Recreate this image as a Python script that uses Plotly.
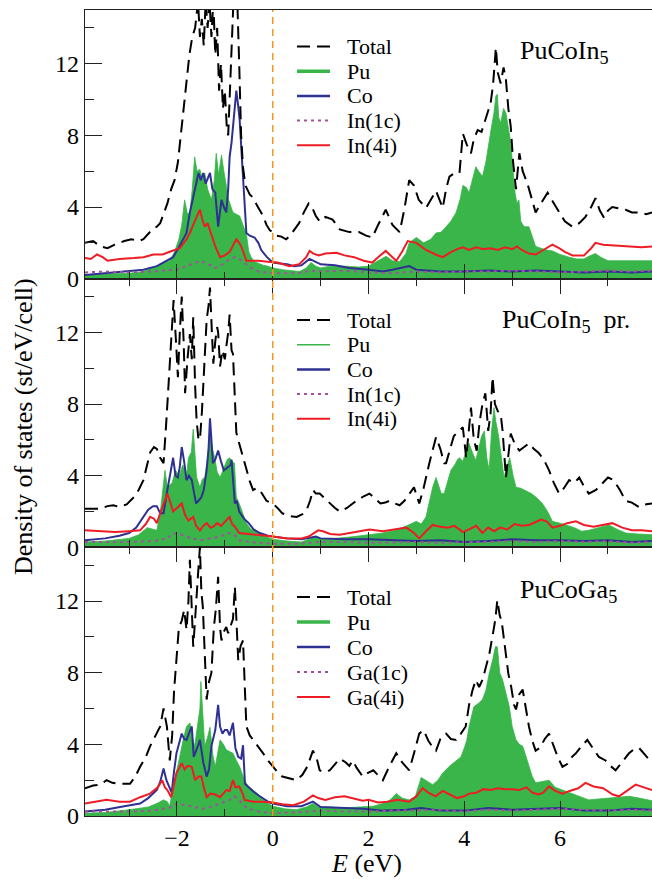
import plotly.graph_objects as go
from plotly.subplots import make_subplots

FONT = "Liberation Serif, Times New Roman, DejaVu Serif, serif"

# ---------------- Panel 1: PuCoIn5 ----------------
p1_total_E = [-3.92,-3.75,-3.6,-3.45,-3.3,-3.1,-2.95,-2.8,-2.7,-2.6,-2.5,-2.42,-2.35,-2.28,-2.2,-2.12,-2.05,-1.98,
              -1.92,-1.86,-1.8,-1.74,-1.68,-1.62,-1.56,-1.52,-1.48,-1.44,-1.4,-1.36,-1.32,-1.28,-1.24,-1.2,-1.16,-1.12,
              -1.08,-1.04,-1.0,-0.96,-0.93,-0.9,-0.86,-0.82,-0.78,-0.74,-0.7,-0.66,-0.62,-0.57,-0.48,-0.4,-0.33,-0.27,
              -0.2,-0.13,-0.06,0.0,0.08,0.18,0.28,0.36,0.44,0.55,0.65,0.75,0.82,0.9,0.98,1.1,1.25,1.4,1.6,1.8,1.95,2.08,
              2.2,2.36,2.5,2.65,2.75,2.85,2.95,3.05,3.2,3.3,3.41,3.55,3.62,3.69,3.8,3.9,3.97,4.05,4.14,4.2,4.28,4.36,
              4.45,4.55,4.6,4.66,4.7,4.76,4.82,4.87,4.92,4.97,5.02,5.08,5.15,5.22,5.32,5.4,5.49,5.6,5.74,5.85,5.98,6.1,
              6.26,6.4,6.53,6.65,6.74,6.83,6.92,7.0,7.09,7.25,7.37,7.5,7.65,7.8,7.92]
p1_total = [2.0,2.1,1.8,1.7,1.9,2.1,2.2,2.1,2.2,2.5,2.8,2.9,3.1,3.6,4.2,5.0,5.5,6.5,
            8.0,9.5,11.0,12.5,13.5,14.0,15.5,13.5,14.5,13.0,15.5,14.0,15.5,13.5,15.5,12.5,14.0,10.5,
            12.0,9.5,10.5,8.5,8.0,10.5,13.5,15.5,16.0,15.5,12.0,8.0,6.2,5.2,4.7,4.5,4.1,3.8,
            3.5,3.0,2.7,2.6,2.4,2.35,2.2,2.4,2.7,3.1,3.7,4.2,4.0,3.5,3.2,3.45,3.3,2.75,2.6,2.6,2.4,2.3,
            3.0,3.85,3.0,2.6,3.9,5.5,5.2,4.4,3.95,4.4,4.9,3.95,5.0,5.7,5.9,5.9,8.1,7.5,7.0,7.8,8.3,8.2,
            8.9,9.8,10.8,12.9,11.5,10.9,11.8,11.1,9.5,8.5,6.5,5.0,7.0,6.0,5.3,4.6,3.7,4.2,4.8,4.3,3.7,3.2,
            2.9,3.1,3.45,4.0,4.5,3.8,3.4,3.8,4.0,3.9,3.85,3.7,3.7,3.6,3.7]

p1_pu_E = [-3.92,-3.5,-3.0,-2.7,-2.42,-2.25,-2.15,-2.05,-1.96,-1.9,-1.84,-1.78,-1.73,-1.68,-1.63,-1.58,-1.52,-1.47,
           -1.42,-1.36,-1.28,-1.22,-1.18,-1.13,-1.07,-1.02,-0.97,-0.92,-0.87,-0.83,-0.76,-0.69,-0.62,-0.55,-0.5,-0.45,
           -0.38,-0.3,-0.2,-0.1,0.0,0.2,0.4,0.56,0.7,0.8,0.9,1.0,1.2,1.5,1.8,2.0,2.2,2.37,2.5,2.65,2.78,2.85,3.0,3.15,
           3.3,3.41,3.52,3.62,3.72,3.83,3.92,3.97,4.04,4.1,4.17,4.24,4.3,4.38,4.45,4.52,4.57,4.62,4.66,4.69,4.72,4.76,
           4.82,4.87,4.92,4.97,5.02,5.06,5.1,5.14,5.18,5.25,5.35,5.42,5.49,5.6,5.72,5.84,6.0,6.19,6.35,6.5,6.6,6.74,
           6.85,7.0,7.3,7.6,7.92]
p1_pu = [0.22,0.25,0.3,0.4,0.7,0.85,1.0,1.5,2.2,3.0,4.4,3.6,3.7,5.0,6.8,6.0,6.1,5.5,
         5.9,5.0,4.4,5.5,7.0,5.8,6.9,6.0,5.2,4.4,4.0,3.7,3.6,3.5,3.0,2.5,1.5,1.2,
         0.95,0.85,0.75,0.7,0.6,0.5,0.45,0.4,0.6,0.9,0.7,0.6,0.7,0.7,0.65,0.7,1.0,1.25,1.0,0.95,1.4,2.0,2.3,2.0,
         2.2,2.55,2.6,2.9,3.2,3.7,4.5,5.2,5.1,4.8,5.5,6.25,6.0,5.7,6.5,7.75,8.5,9.25,10.2,10.3,9.0,8.7,
         9.5,9.25,8.5,7.6,6.0,4.8,4.2,4.4,3.2,2.9,2.9,2.3,1.8,1.7,1.6,1.55,1.35,1.2,1.1,1.1,1.25,1.4,
         1.2,1.0,1.0,1.0,1.0]

p1_co_E = [-3.92,-3.5,-3.0,-2.7,-2.42,-2.2,-2.08,-1.95,-1.8,-1.73,-1.66,-1.6,-1.55,-1.5,-1.45,-1.4,-1.35,-1.31,-1.26,
           -1.2,-1.14,-1.1,-1.07,-1.02,-0.97,-0.93,-0.9,-0.86,-0.83,-0.79,-0.76,-0.72,-0.69,-0.65,-0.62,-0.58,-0.55,
           -0.48,-0.38,-0.3,-0.24,-0.12,0.0,0.15,0.3,0.45,0.6,0.77,0.85,1.0,1.3,1.6,2.0,2.3,2.5,2.85,3.0,3.5,4.0,4.5,
           5.0,5.5,6.0,6.5,7.0,7.5,7.92]
p1_co = [0.2,0.3,0.4,0.5,0.7,1.0,1.2,1.8,2.55,3.7,4.6,5.2,5.9,5.5,5.9,5.3,5.6,5.9,5.0,
         4.8,2.9,3.9,4.4,4.0,3.7,5.0,6.8,7.6,8.5,9.8,10.5,9.6,8.85,7.0,5.5,3.8,2.55,
         2.4,2.3,2.0,1.6,1.2,0.9,0.85,0.8,0.7,0.75,1.1,1.0,0.8,0.75,0.6,0.5,0.4,0.5,0.7,0.5,0.4,0.4,0.45,
         0.4,0.45,0.4,0.35,0.4,0.35,0.4]

p1_in1c_E = [-3.92,-3.5,-3.0,-2.5,-2.0,-1.8,-1.6,-1.5,-1.4,-1.3,-1.2,-1.1,-1.0,-0.9,-0.8,-0.7,-0.6,-0.45,-0.3,0.0,
             0.5,0.8,1.0,1.5,2.0,2.5,3.0,3.5,4.0,4.5,5.0,5.5,6.0,6.5,7.0,7.5,7.92]
p1_in1c = [0.35,0.4,0.35,0.4,0.5,0.7,0.9,1.0,0.85,0.75,0.6,0.7,0.9,1.1,1.2,1.1,0.9,0.6,0.4,0.3,
           0.3,0.45,0.4,0.45,0.35,0.3,0.4,0.35,0.4,0.4,0.45,0.4,0.35,0.4,0.45,0.4,0.45]

p1_in4i_E = [-3.92,-3.8,-3.67,-3.55,-3.45,-3.2,-2.9,-2.7,-2.49,-2.3,-2.15,-1.94,-1.8,-1.73,-1.63,-1.55,-1.52,-1.47,
             -1.42,-1.36,-1.31,-1.25,-1.2,-1.1,-1.0,-0.9,-0.85,-0.76,-0.7,-0.65,-0.55,-0.3,-0.1,0.1,0.35,0.55,0.7,
             0.77,0.85,0.96,1.1,1.33,1.5,1.7,1.9,2.08,2.2,2.36,2.5,2.58,2.7,2.82,3.0,3.2,3.4,3.55,3.7,3.85,3.97,4.1,
             4.25,4.4,4.55,4.7,4.85,5.0,5.1,5.2,5.35,5.49,5.65,5.84,5.98,6.1,6.26,6.5,6.65,6.74,6.9,7.2,7.5,7.7,7.92]
p1_in4i = [1.15,1.1,1.35,1.2,1.0,1.1,1.15,1.2,1.35,1.35,1.5,1.7,2.2,2.55,3.2,3.7,3.85,3.3,
           2.9,3.1,2.7,2.2,1.8,1.2,1.3,1.5,1.75,2.2,2.0,1.75,1.0,1.0,0.95,0.9,0.7,0.8,1.2,
           1.55,1.4,1.3,1.4,1.45,1.3,1.2,1.0,0.9,1.2,1.55,1.2,1.0,1.5,2.1,2.0,1.6,1.35,1.2,1.45,1.65,1.75,1.6,
           1.75,1.65,1.7,1.6,1.75,1.65,1.8,1.6,1.4,1.35,1.6,1.9,1.7,1.5,1.3,1.3,1.7,2.0,1.9,1.85,1.8,1.75,1.8]

# ---------------- Panel 2: PuCoIn5 pr. ----------------
p2_total_E = [-3.92,-3.6,-3.45,-3.33,-3.2,-3.05,-2.9,-2.8,-2.7,-2.62,-2.56,-2.48,-2.42,-2.35,-2.28,-2.22,-2.15,-2.1,
              -2.07,-2.02,-1.98,-1.94,-1.9,-1.86,-1.83,-1.78,-1.73,-1.69,-1.66,-1.62,-1.59,-1.55,-1.52,-1.48,-1.45,
              -1.41,-1.38,-1.34,-1.31,-1.27,-1.24,-1.2,-1.16,-1.14,-1.1,-1.05,-1.0,-0.97,-0.93,-0.9,-0.86,-0.83,-0.8,
              -0.76,-0.7,-0.62,-0.55,-0.48,-0.41,-0.34,-0.27,-0.2,-0.13,-0.06,0.0,0.1,0.2,0.35,0.5,0.62,0.71,0.78,
              0.84,0.9,0.98,1.1,1.19,1.3,1.4,1.55,1.67,1.8,1.9,2.02,2.15,2.25,2.35,2.44,2.55,2.65,2.75,2.85,2.95,3.06,
              3.15,3.27,3.34,3.41,3.5,3.58,3.62,3.7,3.78,3.83,3.9,3.97,4.04,4.1,4.14,4.2,4.26,4.32,4.38,4.44,4.5,4.55,
              4.59,4.64,4.7,4.76,4.8,4.87,4.92,4.97,5.05,5.15,5.25,5.35,5.45,5.56,5.66,5.77,5.87,5.98,6.08,6.19,6.3,
              6.4,6.5,6.6,6.75,6.88,7.0,7.12,7.25,7.37,7.5,7.65,7.8,7.92]
p2_total = [2.15,2.15,2.3,2.35,2.25,2.4,2.8,3.2,3.75,4.6,5.3,5.6,5.5,5.0,4.7,7.1,10.25,12.5,
            13.8,11.5,9.5,12.0,14.0,11.5,8.6,10.5,11.9,10.5,12.85,9.0,7.1,6.0,6.0,7.5,9.0,
            11.0,12.7,13.5,14.5,12.0,10.25,11.5,12.3,12.0,10.1,11.0,10.5,11.2,12.0,13.0,11.0,10.8,8.5,
            6.4,5.8,5.0,4.3,3.7,3.2,3.3,3.2,2.9,2.6,2.5,2.45,2.2,1.9,1.75,1.7,1.85,2.1,2.6,
            3.2,3.0,3.0,2.7,2.45,2.2,2.0,2.2,2.45,2.7,2.85,3.0,2.7,2.45,2.5,2.6,2.45,2.35,2.6,3.0,3.35,2.45,
            3.3,4.7,5.5,6.15,5.5,4.7,4.7,5.5,6.2,6.35,6.5,6.7,5.0,6.5,7.8,6.0,5.4,7.0,8.0,8.6,6.5,7.5,
            9.5,8.0,7.6,7.45,6.5,3.9,5.0,6.35,5.8,5.4,5.6,5.8,5.5,5.25,4.9,4.3,3.6,3.0,3.3,3.75,3.6,
            3.9,3.4,3.0,3.2,3.55,3.9,3.75,3.2,2.6,2.5,2.25,2.4,2.45]

p2_pu_E = [-3.92,-3.5,-3.0,-2.8,-2.62,-2.5,-2.42,-2.35,-2.3,-2.25,-2.2,-2.1,-2.03,-1.95,-1.88,-1.8,-1.76,-1.7,-1.66,
           -1.62,-1.59,-1.52,-1.47,-1.42,-1.36,-1.31,-1.26,-1.21,-1.16,-1.1,-1.05,-1.0,-0.95,-0.9,-0.85,-0.8,-0.76,
           -0.7,-0.62,-0.55,-0.45,-0.3,-0.15,0.0,0.3,0.6,0.8,0.9,1.0,1.3,1.7,2.0,2.3,2.6,2.8,3.0,3.1,3.2,3.27,3.34,
           3.41,3.47,3.52,3.58,3.65,3.72,3.8,3.86,3.9,3.97,4.04,4.1,4.17,4.24,4.3,4.36,4.42,4.47,4.52,4.57,4.62,4.66,
           4.72,4.78,4.83,4.9,4.95,5.02,5.08,5.18,5.29,5.4,5.5,5.63,5.74,5.84,6.0,6.12,6.3,6.45,6.6,6.8,7.02,7.2,
           7.37,7.6,7.92]
p2_pu = [0.3,0.35,0.5,0.7,1.1,1.0,0.95,1.9,3.0,4.3,3.35,3.6,4.3,4.0,4.6,4.0,5.0,5.3,6.6,
         5.0,3.9,3.35,3.8,3.9,5.0,6.5,5.5,5.0,4.2,3.9,4.2,4.5,4.9,5.0,4.8,4.7,2.8,
         2.45,1.8,1.35,1.0,0.8,0.6,0.45,0.35,0.3,0.5,0.6,0.5,0.5,0.6,0.7,0.8,1.0,1.2,1.45,1.3,1.7,2.5,3.35,
         3.9,3.4,3.0,3.0,3.6,4.3,4.6,4.9,5.0,4.8,5.4,5.8,5.3,4.85,5.5,6.2,6.5,5.0,4.3,6.5,7.8,7.0,
         6.15,5.0,3.9,4.6,5.0,4.0,3.35,3.3,3.15,3.0,2.8,2.45,2.0,1.45,1.35,1.25,1.1,0.9,0.95,1.1,1.25,1.0,
         0.8,0.75,0.7]

p2_co_E = [-3.92,-3.5,-3.2,-3.0,-2.85,-2.7,-2.6,-2.5,-2.42,-2.35,-2.28,-2.2,-2.15,-2.1,-2.08,-2.03,-1.98,-1.94,-1.9,
           -1.85,-1.8,-1.75,-1.69,-1.64,-1.6,-1.55,-1.49,-1.44,-1.38,-1.34,-1.31,-1.28,-1.25,-1.2,-1.14,-1.08,-1.02,
           -0.97,-0.93,-0.88,-0.86,-0.82,-0.79,-0.75,-0.7,-0.6,-0.5,-0.4,-0.27,-0.1,0.0,0.3,0.6,0.8,0.9,1.0,1.5,2.0,
           2.5,3.0,3.5,4.0,4.5,5.0,5.5,6.0,6.5,7.0,7.5,7.92]
p2_co = [0.4,0.5,0.65,0.8,1.1,1.7,2.1,2.3,2.3,1.9,1.9,3.2,3.9,4.5,5.0,4.0,3.9,4.5,5.6,
         4.8,3.75,4.0,3.75,3.0,2.45,2.6,2.8,3.2,4.3,5.5,7.2,6.0,4.7,4.9,5.4,4.8,4.3,
         4.4,4.5,4.6,4.9,3.5,2.45,2.6,2.0,1.6,1.35,1.0,0.8,0.65,0.6,0.5,0.45,0.55,0.6,0.5,0.45,0.45,
         0.4,0.35,0.4,0.3,0.35,0.45,0.4,0.4,0.35,0.4,0.3,0.35]

p2_in1c_E = [-3.92,-3.0,-2.5,-2.2,-2.08,-1.9,-1.7,-1.5,-1.3,-1.1,-0.9,-0.8,-0.7,-0.5,0.0,0.5,1.0,1.5,2.0,3.0,3.5,
             4.0,4.5,5.0,5.5,6.0,6.5,7.0,7.5,7.92]
p2_in1c = [0.3,0.3,0.35,0.5,0.8,0.7,0.5,0.4,0.5,0.6,0.8,0.7,0.4,0.3,0.2,0.2,0.3,0.3,0.25,0.3,0.25,
           0.3,0.3,0.35,0.3,0.35,0.3,0.35,0.25,0.3]

p2_in4i_E = [-3.92,-3.5,-3.3,-3.0,-2.77,-2.65,-2.56,-2.48,-2.42,-2.35,-2.28,-2.2,-2.15,-2.08,-2.0,-1.9,-1.83,-1.76,
             -1.66,-1.6,-1.52,-1.45,-1.38,-1.3,-1.24,-1.16,-1.08,-1.0,-0.9,-0.85,-0.79,-0.7,-0.5,-0.27,0.0,0.3,0.6,
             0.75,0.85,0.95,1.05,1.2,1.4,1.7,2.02,2.3,2.6,2.79,2.95,3.06,3.2,3.34,3.5,3.65,3.8,3.97,4.1,4.25,4.38,
             4.5,4.62,4.75,4.9,5.05,5.2,5.35,5.48,5.6,5.72,5.84,6.0,6.15,6.33,6.5,6.7,6.9,7.09,7.3,7.5,7.7,7.92]
p2_in4i = [0.95,0.9,0.85,0.9,0.95,1.3,1.7,1.6,1.35,1.9,2.4,3.0,2.6,2.0,2.2,2.45,1.8,1.5,
           1.7,1.2,0.95,1.2,1.35,1.1,1.15,1.35,1.2,1.4,1.7,1.3,1.15,0.8,0.75,0.7,0.6,0.5,0.5,
           0.6,0.8,0.95,0.9,0.75,0.7,0.85,1.0,0.9,1.0,1.1,0.8,0.5,0.9,1.25,1.15,1.1,1.2,0.85,1.0,1.2,0.8,
           1.1,0.9,1.1,1.0,1.3,1.2,1.25,1.4,1.55,1.45,1.1,1.2,1.35,1.45,1.25,1.15,1.25,1.35,1.1,0.95,0.95,0.9]

# ---------------- Panel 3: PuCoGa5 ----------------
p3_total_E = [-3.92,-3.75,-3.6,-3.47,-3.35,-3.2,-2.98,-2.87,-2.77,-2.65,-2.56,-2.45,-2.35,-2.28,-2.21,-2.15,-2.1,-2.06,
              -2.01,-1.96,-1.9,-1.85,-1.8,-1.76,-1.73,-1.69,-1.66,-1.62,-1.6,-1.56,-1.52,-1.49,-1.46,-1.42,-1.38,-1.33,
              -1.28,-1.23,-1.19,-1.14,-1.1,-1.07,-1.02,-0.97,-0.93,-0.88,-0.83,-0.79,-0.75,-0.72,-0.67,-0.62,-0.58,
              -0.55,-0.48,-0.41,-0.3,-0.2,-0.1,0.0,0.1,0.2,0.35,0.5,0.62,0.72,0.84,0.92,0.98,1.08,1.19,1.3,1.4,1.52,
              1.6,1.67,1.75,1.88,1.98,2.1,2.2,2.3,2.44,2.58,2.7,2.85,2.95,3.06,3.15,3.25,3.35,3.41,3.5,3.62,3.72,3.83,
              3.93,4.03,4.1,4.17,4.24,4.31,4.38,4.45,4.52,4.6,4.65,4.69,4.74,4.78,4.83,4.87,4.92,4.98,5.04,5.08,5.15,
              5.22,5.28,5.35,5.42,5.49,5.58,5.68,5.77,5.85,5.95,6.05,6.15,6.25,6.33,6.45,6.57,6.68,6.81,6.95,7.05,
              7.16,7.3,7.44,7.55,7.65,7.78,7.92]
p3_total = [1.55,1.7,1.75,2.0,1.85,1.8,1.8,2.2,2.75,3.3,3.9,4.5,5.0,6.0,5.0,3.1,4.5,7.0,
            8.9,10.5,10.9,11.5,10.4,12.0,14.3,11.5,9.45,11.0,12.0,13.5,15.0,12.5,11.7,8.5,6.5,7.5,
            8.0,10.5,11.5,13.35,10.5,9.8,10.3,10.55,10.2,10.6,11.0,12.8,10.0,8.7,9.5,9.8,7.0,
            5.0,4.5,4.25,3.9,3.5,3.1,2.75,2.45,2.2,2.1,2.0,2.3,2.75,3.65,3.2,2.55,2.45,2.55,2.9,3.2,3.0,
            2.8,3.1,2.7,2.2,2.4,2.55,2.3,2.0,2.8,3.5,3.0,2.55,3.5,4.6,4.8,4.2,3.8,3.65,4.3,4.6,4.3,4.25,
            4.6,5.0,6.2,7.0,7.6,7.2,7.6,8.3,9.0,10.2,11.0,12.05,11.2,10.9,9.8,8.9,7.95,7.2,6.2,5.95,6.8,
            7.05,6.0,5.0,4.2,3.65,3.8,4.3,4.6,4.0,3.3,2.75,2.9,3.3,3.5,3.9,4.25,3.8,3.3,3.1,2.8,
            2.55,3.0,3.5,3.75,3.8,3.4,2.95]

p3_pu_E = [-3.92,-3.5,-3.0,-2.6,-2.42,-2.28,-2.2,-2.15,-2.08,-2.01,-1.95,-1.87,-1.8,-1.73,-1.68,-1.63,-1.56,-1.52,-1.5,
           -1.47,-1.42,-1.36,-1.31,-1.25,-1.2,-1.15,-1.1,-1.03,-0.97,-0.9,-0.83,-0.76,-0.69,-0.59,-0.5,-0.41,-0.3,
           -0.2,-0.1,0.0,0.25,0.5,0.7,0.84,0.95,1.2,1.5,1.88,2.1,2.3,2.45,2.58,2.7,2.85,2.98,3.1,3.2,3.34,3.45,3.55,
           3.7,3.83,3.93,4.0,4.05,4.1,4.2,4.3,4.38,4.45,4.52,4.6,4.65,4.69,4.74,4.8,4.87,4.94,5.0,5.08,5.15,5.22,
           5.28,5.35,5.42,5.49,5.6,5.77,5.9,6.05,6.2,6.4,6.6,6.8,7.0,7.2,7.44,7.65,7.92]
p3_pu = [0.15,0.2,0.35,0.5,0.7,0.9,0.8,0.55,1.65,2.4,3.2,4.25,5.0,5.2,4.4,3.9,5.4,6.0,7.5,
         6.0,3.9,4.4,4.95,3.4,2.75,3.5,4.25,4.0,3.7,3.6,3.5,3.1,2.75,2.0,1.6,1.45,1.2,
         0.9,0.7,0.55,0.4,0.35,0.5,0.7,0.5,0.5,0.45,0.5,0.55,0.7,0.9,1.25,1.0,0.9,1.1,2.15,2.0,1.75,2.0,2.4,
         2.8,3.1,3.3,3.8,4.2,5.0,6.1,6.3,6.5,7.0,7.95,8.8,9.45,9.45,8.0,7.6,6.8,6.1,5.0,4.25,4.0,3.9,
         3.4,2.75,2.2,1.85,1.9,2.0,1.6,1.45,1.3,1.1,0.9,0.95,1.0,1.05,1.1,1.0,0.85]

p3_co_E = [-3.92,-3.5,-3.1,-2.77,-2.6,-2.42,-2.35,-2.28,-2.22,-2.15,-2.11,-2.06,-2.01,-1.96,-1.9,-1.85,-1.8,-1.75,-1.69,
           -1.65,-1.6,-1.55,-1.52,-1.45,-1.38,-1.33,-1.28,-1.2,-1.14,-1.1,-1.05,-1.0,-0.95,-0.9,-0.83,-0.78,-0.72,
           -0.66,-0.62,-0.58,-0.5,-0.4,-0.27,-0.1,0.0,0.3,0.6,0.84,1.0,1.5,1.9,2.3,2.8,3.1,3.5,4.0,4.5,5.0,5.5,6.0,
           6.5,7.0,7.5,7.92]
p3_co = [0.25,0.35,0.55,0.7,1.0,1.45,1.9,2.65,2.0,1.5,1.3,2.5,3.5,4.0,4.6,4.3,4.25,4.6,5.0,
         3.3,3.6,4.0,4.25,3.0,2.2,2.6,3.9,4.8,6.2,5.0,4.6,4.8,4.8,4.5,5.2,3.8,3.3,
         3.2,3.95,1.8,1.6,1.35,1.1,0.8,0.7,0.55,0.55,0.8,0.5,0.45,0.4,0.3,0.35,0.45,0.3,0.3,0.45,0.35,0.4,0.45,
         0.3,0.3,0.4,0.35]

p3_ga1c_E = [-3.92,-3.0,-2.5,-2.1,-2.0,-1.8,-1.6,-1.45,-1.3,-1.1,-0.9,-0.8,-0.7,-0.55,-0.3,0.0,0.5,1.0,1.5,2.0,2.5,
             3.0,3.5,4.0,4.5,5.0,5.5,6.0,6.5,7.0,7.5,7.92]
p3_ga1c = [0.25,0.25,0.3,0.5,0.7,0.6,0.5,0.4,0.5,0.7,0.9,1.1,0.9,0.45,0.25,0.15,0.2,0.3,0.25,0.25,0.3,
           0.3,0.35,0.25,0.35,0.3,0.35,0.4,0.35,0.3,0.35,0.3]

p3_ga4i_E = [-3.92,-3.7,-3.47,-3.2,-2.98,-2.77,-2.56,-2.4,-2.31,-2.25,-2.2,-2.12,-2.05,-2.01,-1.95,-1.9,-1.84,-1.78,
             -1.69,-1.62,-1.55,-1.49,-1.43,-1.38,-1.3,-1.2,-1.1,-1.03,-0.97,-0.9,-0.83,-0.78,-0.7,-0.62,-0.59,-0.4,
             -0.2,0.0,0.2,0.43,0.65,0.84,0.95,1.1,1.3,1.5,1.67,1.88,2.0,2.2,2.4,2.6,2.85,3.0,3.13,3.25,3.4,3.55,3.7,
             3.85,4.0,4.1,4.25,4.4,4.55,4.7,4.85,5.0,5.15,5.3,5.42,5.55,5.65,5.77,5.9,6.05,6.2,6.38,6.53,6.7,6.9,
             7.1,7.23,7.4,7.58,7.75,7.92]
p3_ga4i = [0.7,0.8,0.9,0.8,0.8,1.05,1.25,1.6,2.0,1.6,1.45,1.05,1.9,2.4,2.7,2.95,2.6,2.8,
           2.75,2.0,2.2,2.2,1.5,1.05,1.25,1.2,1.05,1.3,1.45,1.4,2.0,1.6,1.65,1.2,0.9,0.8,
           0.8,0.75,0.65,0.6,0.8,1.15,1.0,0.9,1.05,1.1,1.0,0.85,0.9,0.75,0.8,0.9,0.8,1.1,1.55,1.3,1.1,1.4,1.2,
           1.0,1.1,1.25,1.3,1.5,1.45,1.55,1.5,1.5,1.45,1.6,1.3,1.2,1.3,1.65,1.4,1.25,1.4,1.55,1.85,1.65,1.55,
           1.2,1.1,1.4,1.75,1.6,1.45]

# ---------------- labels ----------------
panel_titles = ["PuCoIn<sub>5</sub>", "PuCoIn<sub>5</sub>  pr.", "PuCoGa<sub>5</sub>"]
legend_names = [["Total", "Pu", "Co", "In(1c)", "In(4i)"],
                ["Total", "Pu", "Co", "In(1c)", "In(4i)"],
                ["Total", "Pu", "Co", "Ga(1c)", "Ga(4i)"]]
y_ticks = [0, 4, 8, 12]
y_minor = [2, 6, 10, 14]
x_range = [-3.92, 7.92]
y_range = [0, 15]

GREEN = "#39B54A"
BLUE = "#2E3192"
RED = "#EE1C25"
PURPLE = "#A5509E"
ORANGE = "#F7941D"

panels = [
    (p1_total_E, p1_total, p1_pu_E, p1_pu, p1_co_E, p1_co, p1_in1c_E, p1_in1c, p1_in4i_E, p1_in4i),
    (p2_total_E, p2_total, p2_pu_E, p2_pu, p2_co_E, p2_co, p2_in1c_E, p2_in1c, p2_in4i_E, p2_in4i),
    (p3_total_E, p3_total, p3_pu_E, p3_pu, p3_co_E, p3_co, p3_ga1c_E, p3_ga1c, p3_ga4i_E, p3_ga4i),
]

W, H = 652, 879
ML, MR, MT, MB = 85, 0, 10, 63
PW, PH = W - ML - MR, H - MT - MB

fig = make_subplots(rows=3, cols=1, shared_xaxes=True, vertical_spacing=0)

for i, (tE, tV, pE, pV, cE, cV, aE, aV, bE, bV) in enumerate(panels):
    r = i + 1
    names = legend_names[i]
    fig.add_trace(go.Scatter(x=pE, y=pV, mode="lines", fill="tozeroy", fillcolor=GREEN, name=names[1],
                             line=dict(color=GREEN, width=0.8), showlegend=False), row=r, col=1)
    fig.add_trace(go.Scatter(x=cE, y=cV, mode="lines", line=dict(color=BLUE, width=2), name=names[2],
                             showlegend=False), row=r, col=1)
    fig.add_trace(go.Scatter(x=aE, y=aV, mode="lines", line=dict(color=PURPLE, width=2, dash="3px,4px"),
                             name=names[3], showlegend=False), row=r, col=1)
    fig.add_trace(go.Scatter(x=bE, y=bV, mode="lines", line=dict(color=RED, width=2), name=names[4],
                             showlegend=False), row=r, col=1)
    fig.add_trace(go.Scatter(x=tE, y=tV, mode="lines", line=dict(color="black", width=2, dash="13px,7px"),
                             name=names[0], showlegend=False), row=r, col=1)

tickfont = dict(family=FONT, size=24, color="black")
for r in (1, 2, 3):
    fig.update_yaxes(range=y_range, tickvals=y_ticks, ticks="inside", ticklen=17, tickwidth=1.2,
                     tickcolor="#222222", showline=True, linecolor="#222222", linewidth=1.2, mirror=False,
                     showgrid=False, zeroline=False, tickfont=tickfont,
                     minor=dict(tickvals=y_minor, ticks="inside", ticklen=9, tickwidth=1.2, tickcolor="#222222"),
                     row=r, col=1)
    fig.update_xaxes(range=x_range, tick0=0, dtick=2, ticks="inside", ticklen=15, tickwidth=1.2,
                     tickcolor="#222222", showline=True, linecolor="#222222", linewidth=1.2,
                     mirror=(True if r == 1 else "ticks"), showgrid=False, zeroline=False, tickfont=tickfont,
                     minor=dict(dtick=1, tick0=0, ticks="inside", ticklen=7, tickwidth=1.2, tickcolor="#222222"),
                     row=r, col=1)


def px_x(p):
    return (p - ML) / PW


def px_y(p):
    return (H - MB - p) / PH


shapes = []
annotations = []

# Fermi level
shapes.append(dict(type="line", xref="x", yref="paper", x0=0, x1=0, y0=0, y1=1,
                   line=dict(color=ORANGE, width=1.5, dash="7px,5px"), layer="above"))

legend_y0 = [46.5, 320.0, 597.0]
legend_step = [24.7, 24.7, 25.0]
title_pos = [(518, 52), (500, 321.5), (518, 591)]
pu_width = [3.5, 1.6, 3.5]
styles = [dict(color="black", width=2, dash="13px,7px"),
          None,
          dict(color=BLUE, width=2.5),
          dict(color=PURPLE, width=2, dash="3px,4px"),
          dict(color=RED, width=2)]

for i in range(3):
    for k, name in enumerate(legend_names[i]):
        yy = legend_y0[i] + k * legend_step[i]
        st = styles[k] if k != 1 else dict(color=GREEN, width=pu_width[i])
        shapes.append(dict(type="line", xref="paper", yref="paper", x0=px_x(297), x1=px_x(330),
                           y0=px_y(yy), y1=px_y(yy), line=st))
        annotations.append(dict(text=name, xref="paper", yref="paper", x=px_x(346), y=px_y(yy),
                                xanchor="left", yanchor="middle", showarrow=False, borderpad=0,
                                font=dict(family=FONT, size=22, color="black")))
    tx, ty = title_pos[i]
    annotations.append(dict(text=panel_titles[i], xref="paper", yref="paper", x=px_x(tx), y=px_y(ty),
                            xanchor="left", yanchor="middle", showarrow=False,
                            font=dict(family=FONT, size=26, color="black")))

annotations.append(dict(text="Density of states (st/eV/cell)", xref="paper", yref="paper",
                        x=px_x(23), y=px_y(427), xanchor="center", yanchor="middle", textangle=-90,
                        showarrow=False, font=dict(family=FONT, size=26, color="black")))
annotations.append(dict(text="<i>E</i> (eV)", xref="paper", yref="paper",
                        x=px_x(366), y=px_y(864), xanchor="center", yanchor="middle",
                        showarrow=False, font=dict(family=FONT, size=26, color="black")))

fig.update_layout(width=W, height=H, margin=dict(l=ML, r=MR, t=MT, b=MB, pad=0),
                  plot_bgcolor="white", paper_bgcolor="white", showlegend=False,
                  shapes=shapes, annotations=annotations, font=dict(family=FONT, color="black"))

fig.write_html("out.html", config={"displayModeBar": False},
               post_script="document.body.style.margin='0px';document.body.style.overflow='hidden';")
